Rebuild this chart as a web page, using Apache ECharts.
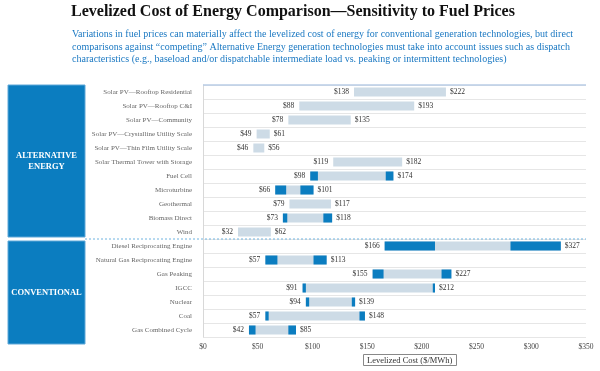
<!DOCTYPE html>
<html>
<head>
<meta charset="utf-8">
<script src="https://cdn.jsdelivr.net/npm/echarts@6/dist/echarts.min.js"></script>
<style>
html,body{margin:0;padding:0;background:#fff;}
#chart{width:600px;height:371px;}
</style>
</head>
<body>
<div id="chart"></div>
<script>
var categories = [
  'Solar PV\u2014Rooftop Residential',
  'Solar PV\u2014Rooftop C&I',
  'Solar PV\u2014Community',
  'Solar PV\u2014Crystalline Utility Scale',
  'Solar PV\u2014Thin Film Utility Scale',
  'Solar Thermal Tower with Storage',
  'Fuel Cell',
  'Microturbine',
  'Geothermal',
  'Biomass Direct',
  'Wind',
  'Diesel Reciprocating Engine',
  'Natural Gas Reciprocating Engine',
  'Gas Peaking',
  'IGCC',
  'Nuclear',
  'Coal',
  'Gas Combined Cycle'
];
var lowCost  = [138, 88, 78, 49, 46, 119, 98, 66, 79, 73, 32, 166, 57, 155, 91, 94, 57, 42];
var highCost = [222, 193, 135, 61, 56, 182, 174, 101, 117, 118, 62, 327, 113, 227, 212, 139, 148, 85];
// end of low-fuel-price (blue) segment and start of high-fuel-price (blue) segment; null = no fuel sensitivity
var fuelLowEnd    = [null, null, null, null, null, null, 105, 76, null, 77, null, 212, 68, 165, 94, 97, 60, 48];
var fuelHighStart = [null, null, null, null, null, null, 167, 89, null, 110, null, 281, 101, 218, 210, 136, 143, 78];
var xTicks = [0, 50, 100, 150, 200, 250, 300, 350];
var groupNames = ['ALTERNATIVE\nENERGY', 'CONVENTIONAL'];
var groupSplitIndex = 11; // first conventional row

var SERIF = "'Liberation Serif','DejaVu Serif',serif";
var GRAY = '#cddbe6';
var BLUE = '#0b7dc0';

var rangeLen = lowCost.map(function(l, i){ return highCost[i] - l; });
var blueA = lowCost.map(function(l, i){ return fuelLowEnd[i] == null ? null : fuelLowEnd[i] - l; });
var midGap = lowCost.map(function(l, i){ return fuelLowEnd[i] == null ? null : fuelHighStart[i] - fuelLowEnd[i]; });
var blueB = highCost.map(function(h, i){ return fuelHighStart[i] == null ? null : h - fuelHighStart[i]; });
var fuelBase = lowCost.map(function(l, i){ return fuelLowEnd[i] == null ? null : l; });

var chart = echarts.init(document.getElementById('chart'), null, {renderer:'canvas'});

var common = {type:'bar', barWidth: 9, barGap:'-100%', silent:true, emphasis:{disabled:true}, animation:false};

var option = {
  backgroundColor: '#fff',
  animation: false,
  title: [
    {text: 'Levelized Cost of Energy Comparison\u2014Sensitivity to Fuel Prices', left: 66, top: -1,
     textStyle: {fontFamily: SERIF, fontSize: 16, fontWeight: 'bold', color: '#111'}},
    {text: 'Variations in fuel prices can materially affect the levelized cost of energy for conventional generation technologies, but direct\ncomparisons against \u201ccompeting\u201d Alternative Energy generation technologies must take into account issues such as dispatch\ncharacteristics (e.g., baseload and/or dispatchable intermediate load vs. peaking or intermittent technologies)',
     left: 67, top: 23,
     textStyle: {fontFamily: SERIF, fontSize: 10, fontWeight: 'normal', color: '#1a78c2', lineHeight: 12.6}},
    {text: 'Levelized Cost ($/MWh)', left: 363, top: 354, padding: [2, 4, 1, 4], borderWidth: 1, borderColor: '#888',
     textStyle: {fontFamily: SERIF, fontSize: 8.5, fontWeight: 'normal', color: '#333'}}
  ],
  grid: {left: 203, right: 14, top: 85, height: 252, containLabel: false},
  xAxis: {
    type: 'value', min: xTicks[0], max: xTicks[xTicks.length-1], interval: 50,
    axisLine: {show: false}, axisTick: {show: false}, splitLine: {show: false},
    axisLabel: {margin: 6, fontFamily: SERIF, fontSize: 7.5, color: '#444', formatter: function(v){ return '$' + v; }}
  },
  yAxis: {
    type: 'category', data: categories, inverse: true,
    axisLine: {show: true, lineStyle: {color: '#d8d8d8'}},
    axisTick: {show: false},
    splitLine: {show: true, lineStyle: {color: '#e6e6e6', width: 1}},
    axisLabel: {margin: 11, fontFamily: SERIF, fontSize: 7, color: '#666'}
  },
  series: [
    Object.assign({}, common, {name:'base', stack:'range', data: lowCost, itemStyle:{color:'transparent'},
      label:{show:true, position:'insideRight', distance: 5, formatter: function(p){ return '$' + lowCost[p.dataIndex]; }, fontFamily: SERIF, fontSize: 7.5, color:'#333'}}),
    Object.assign({}, common, {name:'range', stack:'range', data: rangeLen, itemStyle:{color: GRAY},
      label:{show:true, position:'right', distance: 4, formatter: function(p){ return '$' + highCost[p.dataIndex]; }, fontFamily: SERIF, fontSize: 7.5, color:'#333'}}),
    Object.assign({}, common, {name:'fuelBase', stack:'fuel', data: fuelBase, itemStyle:{color:'transparent'}}),
    Object.assign({}, common, {name:'fuelLow', stack:'fuel', data: blueA, itemStyle:{color: BLUE}}),
    Object.assign({}, common, {name:'fuelMid', stack:'fuel', data: midGap, itemStyle:{color:'transparent'}}),
    Object.assign({}, common, {name:'fuelHigh', stack:'fuel', data: blueB, itemStyle:{color: BLUE}})
  ]
};
chart.setOption(option);

// decorations positioned from the axis scale
(function(){
  var yFirst = chart.convertToPixel({yAxisIndex:0}, categories[0]);
  var yLast = chart.convertToPixel({yAxisIndex:0}, categories[categories.length-1]);
  var rowH = (yLast - yFirst) / (categories.length - 1);
  var gTop = yFirst - rowH/2, gBottom = yLast + rowH/2;
  var split = chart.convertToPixel({yAxisIndex:0}, categories[groupSplitIndex]) - rowH/2;
  var xL = chart.convertToPixel({xAxisIndex:0}, xTicks[0]);
  var xR = chart.convertToPixel({xAxisIndex:0}, xTicks[xTicks.length-1]);
  chart.setOption({
    graphic: [
      {type:'rect', shape:{x:8, y:gTop, width:77, height:split - 2 - gTop}, style:{fill: BLUE, stroke:'#5fa8d8', lineWidth:1}, z:0},
      {type:'text', x:46.5, y:(gTop + split - 2)/2, style:{text: groupNames[0], fill:'#fff', font:'bold 8.5px ' + SERIF, align:'center', verticalAlign:'middle', lineHeight: 11}, z:1},
      {type:'rect', shape:{x:8, y:split + 2, width:77, height:gBottom + 7 - split - 2}, style:{fill: BLUE, stroke:'#5fa8d8', lineWidth:1}, z:0},
      {type:'text', x:46.5, y:(split + 2 + gBottom + 7)/2, style:{text: groupNames[1], fill:'#fff', font:'bold 8.5px ' + SERIF, align:'center', verticalAlign:'middle'}, z:1},
      {type:'line', shape:{x1:85, y1:split, x2:xR, y2:split}, style:{stroke:'#6fb3e0', lineWidth:1, lineDash:[2,2]}, z:10},
      {type:'line', shape:{x1:xL, y1:gTop, x2:xR, y2:gTop}, style:{stroke:'#b9cde6', lineWidth:1.5}, z:10}
    ]
  });
})();
</script>
</body>
</html>
